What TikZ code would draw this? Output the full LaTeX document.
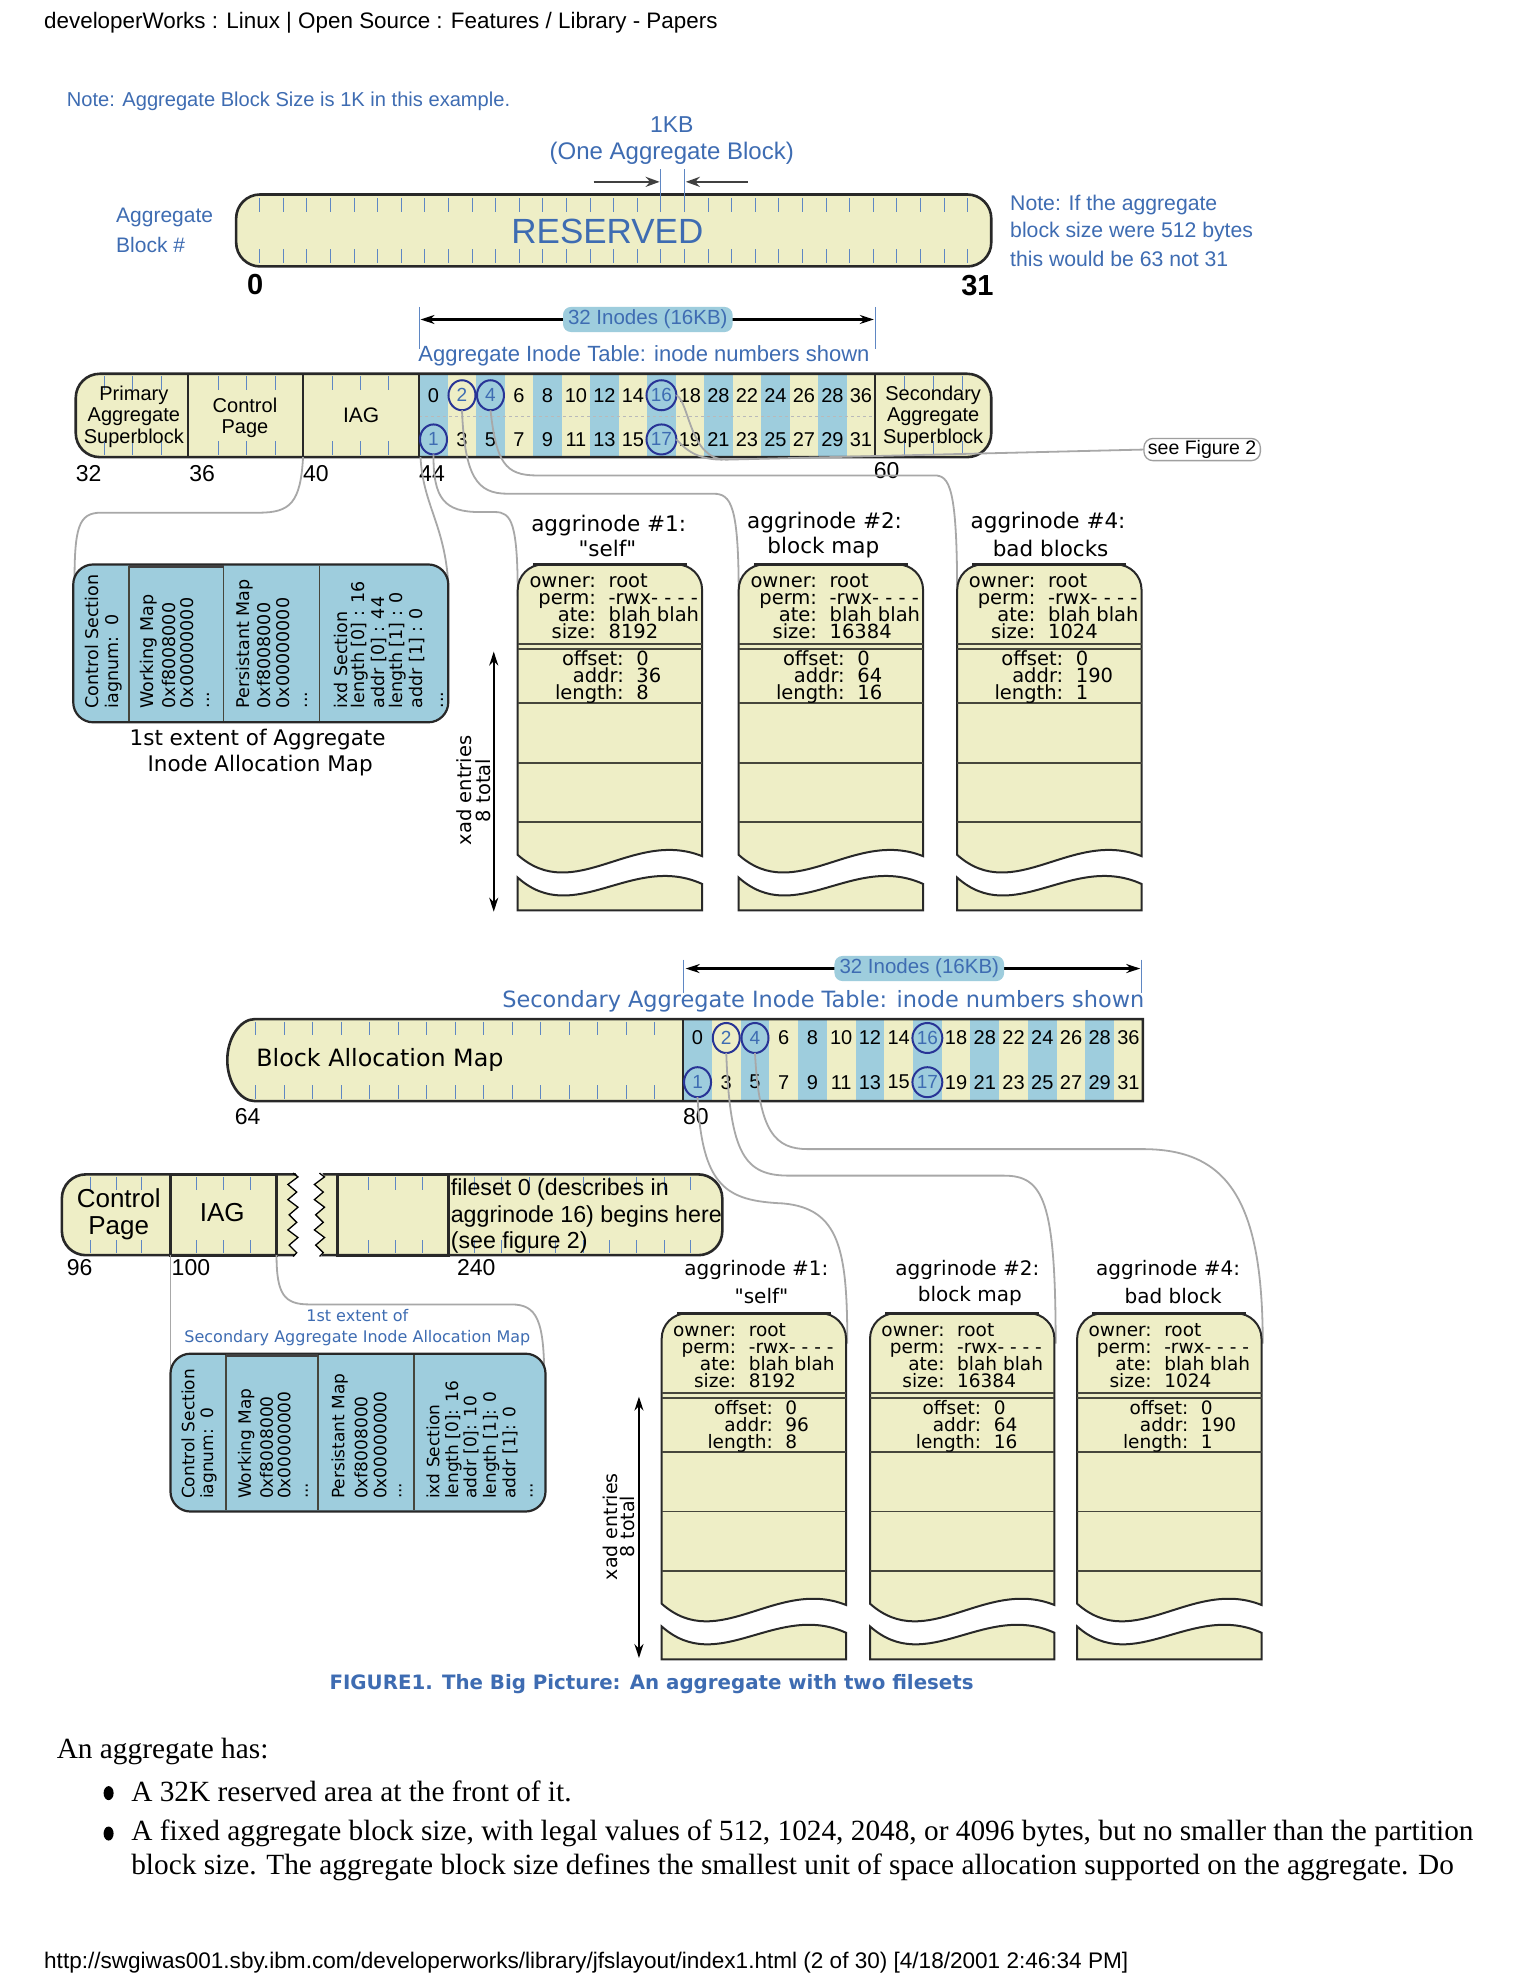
\documentclass[tikz,border=0pt]{standalone}
\usepackage{fontspec}
\setmainfont{Liberation Sans}
\newfontfamily\dejaf{DejaVu Sans}
\newfontfamily\serf{Liberation Serif}
\usetikzlibrary{arrows.meta,shapes.geometric}
\definecolor{creamc}{RGB}{238,238,198}
\definecolor{bluec}{RGB}{158,205,221}
\definecolor{bluet}{RGB}{62,108,178}
\definecolor{tickc}{RGB}{95,135,195}
\definecolor{navyc}{RGB}{40,52,150}
\definecolor{outc}{RGB}{40,40,40}
\definecolor{connc}{RGB}{168,168,168}
\definecolor{divc}{RGB}{70,70,60}
\newcommand\fsz[1]{\fontsize{#1}{#1}\selectfont}
\newcommand\fszl[2]{\fontsize{#1}{#2}\selectfont}
% aggrinode box: L, T, size, addr, length, fontsize, suffix, upper label x offset, lower label x offset
\newcommand\aggbox[9]{%
 \pgfmathsetmacro\aR{#1+146}
 \draw[draw=outc, line width=2pt, fill=creamc] (#1,{#2+230}) -- (#1,{#2+20}) .. controls (#1,{#2+9}) and ({#1+9},#2) .. ({#1+20},#2) -- ({\aR-20},#2) .. controls ({\aR-9},#2) and (\aR,{#2+9}) .. (\aR,{#2+20}) -- (\aR,{#2+231}) .. controls ({\aR-55},{#2+209}) and ({#1+45},{#2+270}) .. (#1,{#2+230}) -- cycle;
 \draw[outc, line width=3.5pt] ({#1+12},#2) -- ({\aR-12},#2);
 \foreach \dy in {63,67,110,157,204} \draw[dv] (#1,{#2+\dy}) -- (\aR,{#2+\dy});
 \draw[draw=outc, line width=2pt, fill=creamc] (#1,{#2+248}) .. controls ({#1+45},{#2+288}) and ({\aR-55},{#2+228}) .. (\aR,{#2+253}) -- (\aR,{#2+274}) -- (#1,{#2+274}) -- cycle;
 \begin{scope}
 \clip (#1,#2) rectangle (\aR,{#2+120});
 \node[anchor=base east, font=\dejaf\fsz{#6}] (ow#7) at ({#1+#8},{#2+18}) {owner:};
 \node[anchor=base west, font=\dejaf\fsz{#6}] (owv#7) at ({#1+#8+10},{#2+18}) {root};
 \node[anchor=base east, font=\dejaf\fsz{#6}] (pm#7) at ({#1+#8},{#2+32}) {perm:};
 \node[anchor=base west, font=\dejaf\fsz{#6}] (pmv#7) at ({#1+#8+10},{#2+32}) {-rwx- - - -};
 \node[anchor=base east, font=\dejaf\fsz{#6}] (at#7) at ({#1+#8},{#2+45.5}) {ate:};
 \node[anchor=base west, font=\dejaf\fsz{#6}] (atv#7) at ({#1+#8+10},{#2+45.5}) {blah blah};
 \node[anchor=base east, font=\dejaf\fsz{#6}] (sz#7) at ({#1+#8},{#2+59}) {size:};
 \node[anchor=base west, font=\dejaf\fsz{#6}] (szv#7) at ({#1+#8+10},{#2+59}) {#3};
 \node[anchor=base east, font=\dejaf\fsz{#6}] (of#7) at ({#1+#9},{#2+80}) {offset:};
 \node[anchor=base west, font=\dejaf\fsz{#6}] (ofv#7) at ({#1+#9+10},{#2+80}) {0};
 \node[anchor=base east, font=\dejaf\fsz{#6}] (ad#7) at ({#1+#9},{#2+93.5}) {addr:};
 \node[anchor=base west, font=\dejaf\fsz{#6}] (adv#7) at ({#1+#9+10},{#2+93.5}) {#4};
 \node[anchor=base east, font=\dejaf\fsz{#6}] (ln#7) at ({#1+#9},{#2+107}) {length:};
 \node[anchor=base west, font=\dejaf\fsz{#6}] (lnv#7) at ({#1+#9+10},{#2+107}) {#5};
 \end{scope}
}
\begin{document}
\begin{tikzpicture}[x=1.2624pt,y=-1.2624pt,
  every node/.style={inner sep=0pt, outer sep=0pt},
  outl/.style={draw=outc, line width=2.6pt},
  tk/.style={draw=tickc, line width=1pt},
  conn/.style={draw=connc, line width=1.8pt},
  dv/.style={draw=divc, line width=1.8pt},
  num/.style={font=\fsz{20pt}},
  circ/.style={ellipse, draw=navyc, line width=2pt, minimum width=27pt, minimum height=30pt, text=bluet, font=\fsz{19pt}},
  lbl/.style={font=\fsz{23pt}, anchor=west},
  bt/.style={text=bluet},
  aggl/.style={font=\dejaf\fsz{21.5pt}},
  rot/.style={rotate=90, anchor=west, font=\dejaf\fsz{17.5pt}},
  rotb/.style={rotate=90, anchor=west, font=\dejaf\fsz{17pt}},
  tiparrow/.style={-{Stealth[length=14pt,width=10pt]}, draw=black!75, line width=2.2pt},
  dbl/.style={{Stealth[length=14pt,width=9pt]}-{Stealth[length=14pt,width=9pt]}, draw=black, line width=1.8pt},
  segt/.style={align=center, font=\fszl{20pt}{21.5pt}},
]
\useasboundingbox (0,0) rectangle (1212,1568);
\fill[white] (0,0) rectangle (1212,1568);

% header
\node[anchor=west, font=\fsz{22.4pt}] (hdr) at (35,18) {developerWorks : Linux | Open Source : Features / Library - Papers};

% ===== Section 1: reserved =====
\node[anchor=west, bt, font=\fsz{20.1pt}] (note1) at (53,80) {Note: Aggregate Block Size is 1K in this example.};
\node[bt, font=\fsz{23pt}] (kb) at (532,99) {1KB};
\node[bt, font=\fsz{24pt}] (kbsub) at (532,121) {(One Aggregate Block)};
\draw[outl, fill=creamc, rounded corners=24pt] (187,154) rectangle (785,211);
\foreach \i in {1,...,31} {
  \draw[tk] ({187+\i*18.69},157) -- ++(0,11);
  \draw[tk] ({187+\i*18.69},208) -- ++(0,-11);
}
\draw[tk] (523.4,134) -- (523.4,157);
\draw[tk] (542.1,134) -- (542.1,157);
\coordinate (kbl) at (522.4,144);
\coordinate (kbr) at (543.1,144);
\coordinate (kbla) at (470,144);
\coordinate (kbra) at (592,144);
\draw[tiparrow] (kbla) -- (kbl);
\draw[tiparrow] (kbra) -- (kbr);
\node[bt, font=\fsz{35pt}] (res) at (481,183) {RESERVED};
\node[anchor=west, bt, font=\fsz{21pt}] (ab1) at (92,172) {Aggregate};
\node[anchor=west, bt, font=\fsz{21pt}] (ab2) at (92,194) {Block \#};
\node[font=\bfseries\fsz{29pt}] (zero) at (202,225) {0};
\node[font=\bfseries\fsz{29pt}] (th1) at (774,226) {31};
\node[anchor=west, bt, font=\fsz{21.2pt}] (nr1) at (800,162) {Note: If the aggregate};
\node[anchor=west, bt, font=\fsz{21.2pt}] (nr2) at (800,184) {block size were 512 bytes};
\node[anchor=west, bt, font=\fsz{21.2pt}] (nr3) at (800,205) {this would be 63 not 31};

% ===== Section 2: aggregate inode table =====
\draw[tk] (332,243) -- (332,276);
\draw[tk] (693,243) -- (693,276);
\coordinate (ia1) at (333,253);
\coordinate (ia2) at (692,253);
\draw[dbl, line width=2.2pt] (ia1) -- (ia2);
\node[fill=bluec, rounded corners=8pt, inner xsep=5pt, inner ysep=3pt, text=bluet, font=\fsz{20.5pt}] (inl1) at (513,253) {32 Inodes (16KB)};
\node[bt, font=\fsz{22pt}] (ait) at (510,282) {Aggregate Inode Table: inode numbers shown};

\coordinate (iagBL) at (240,362);
\coordinate (iagBR) at (333,362);
\coordinate (iamTL) at (59,462);
\coordinate (iamTR) at (355,462);
\coordinate (ag1a) at (410,472);
\coordinate (ag2a) at (585,472);
\coordinate (ag4a) at (758,472);

\fill[creamc, rounded corners=24pt] (60,296) rectangle (785,362);
\foreach \i in {0,2,...,14} \fill[bluec] ({332+\i*22.5625},296) rectangle ({332+(\i+1)*22.5625},362);
\draw[gray!55, dashed, line width=1pt] (332,330) -- (693,330);
\foreach \b in {33,34,35,37,38,39,41,42,43} {
  \draw[tk] ({60+(\b-32)*22.55},298) -- ++(0,11);
  \draw[tk] ({60+(\b-32)*22.55},360) -- ++(0,-11);
}
\foreach \b in {1,2,3} {
  \draw[tk] ({693+\b*23},298) -- ++(0,11);
  \draw[tk] ({693+\b*23},360) -- ++(0,-11);
}
\foreach \xx in {149,240,332,693} \draw[draw=outc, line width=2.2pt] (\xx,296) -- (\xx,362);
\draw[outl, rounded corners=24pt] (60,296) rectangle (785,362);

\node[segt] (psb) at (106,330) {Primary\\Aggregate\\Superblock};
\node[segt] (cp1) at (194,331) {Control\\Page};
\node[font=\fsz{21pt}] (iag1) at (286,329) {IAG};
\node[segt] (ssb) at (739,330) {Secondary\\Aggregate\\Superblock};

\foreach \i/\t in {0/0,3/6,4/8,5/10,6/12,7/14,9/18,10/28,11/22,12/24,13/26,14/28,15/36}
  \node[num] (ta\i) at ({343.3+\i*22.5625},313) {\t};
\foreach \i/\t in {1/3,2/5,3/7,4/9,5/11,6/13,7/15,9/19,10/21,11/23,12/25,13/27,14/29,15/31}
  \node[num] (tb\i) at ({343.3+\i*22.5625},348) {\t};
\node[circ] (c2) at ({343.3+1*22.5625},313) {2};
\node[circ] (c4) at ({343.3+2*22.5625},313) {4};
\node[circ] (c16) at ({343.3+8*22.5625},313) {16};
\node[circ] (c1) at (343.3,348) {1};
\node[circ] (c17) at ({343.3+8*22.5625},348) {17};

\node[lbl] (l32) at (60,375) {32};
\node[lbl] (l36) at (150,375) {36};
\node[lbl] (l40) at (240,375) {40};
\node[lbl] (l44) at (332,375) {44};
\node[lbl] (l60) at (692,373) {60};

\node[draw=gray!75, line width=1.3pt, rounded corners=9pt, inner xsep=4pt, inner ysep=2pt, font=\fsz{19.5pt}] (sf2) at (952,356) {see Figure 2};

\draw[conn] (iagBL) .. controls (238,398) and (230,406) .. (205,406) -- (80,406) .. controls (62,406) and (59,418) .. (iamTL);
\draw[conn] (iagBR) .. controls (335,400) and (352,415) .. (iamTR);
\draw[conn] (c1.south) .. controls (343,395) and (352,405.5) .. (380,405.5) -- (392,405.5) .. controls (405,405.5) and (410,414) .. (ag1a);
\draw[conn] (c2.south) .. controls (368,378) and (378,391) .. (402,391) -- (565,391) .. controls (579,391) and (585,400) .. (ag2a);
\draw[conn] (c4.south) .. controls (393,366) and (400,376.5) .. (425,376.5) -- (740,376.5) .. controls (752,376.5) and (758,386) .. (ag4a);
\draw[conn] (c16.east) .. controls (546,318) and (546,364) .. (575,364) -- (sf2.west);
\draw[conn] (c17.east) .. controls (540,352) and (548,364) .. (572,364);

% IAM box 1
\draw[outl, fill=bluec, rounded corners=20pt, line width=2.2pt] (58,447) rectangle (355,572);
\foreach \xx in {102,177,253} \draw[dv] (\xx,448) -- (\xx,571);
\draw[draw=gray!50!black, line width=3pt] (102,448.5) -- (177,448.5);
\node[rot] (m1a) at (73,561) {Control Section};
\node[rot] (m1b) at (90,561) {iagnum:\ \ 0};
\node[rot] (m1c) at (118,561) {Working Map};
\node[rot] (m1d) at (133.5,561) {0xf8008000};
\node[rot] (m1e) at (148.5,561) {0x00000000};
\node[rot] (m1f) at (165,561) {...};
\node[rot] (m1g) at (194,561) {Persistant Map};
\node[rot] (m1h) at (209,561) {0xf8008000};
\node[rot] (m1i) at (224,561) {0x00000000};
\node[rot] (m1j) at (243,561) {...};
\node[rot] (m1k) at (270,561) {ixd Section};
\node[rot] (m1l) at (285,561) {length [0] : 16};
\node[rot] (m1m) at (300,561) {addr [0] : 44};
\node[rot] (m1n) at (315,561) {length [1] : 0};
\node[rot] (m1o) at (330,561) {addr [1] : 0};
\node[rot] (m1p) at (350,561) {...};
\node[font=\dejaf\fsz{21.5pt}] (ext1a) at (204,586) {1st extent of Aggregate};
\node[font=\dejaf\fsz{21.5pt}] (ext1b) at (206,606) {Inode Allocation Map};

% aggrinodes section 1
\node[aggl] (a1l1) at (482,416) {aggrinode \#1:};
\node[aggl] (a1l2) at (481,434) {"self"};
\node[aggl] (a2l1) at (653,414) {aggrinode \#2:};
\node[aggl] (a2l2) at (652,434) {block map};
\node[aggl] (a4l1) at (830,414) {aggrinode \#4:};
\node[aggl] (a4l2) at (832,434) {bad blocks};
\aggbox{410}{447}{8192}{36}{8}{19.5pt}{A}{62}{84}
\aggbox{585}{447}{16384}{64}{16}{19.5pt}{B}{62}{84}
\aggbox{758}{447}{1024}{190}{1}{19.5pt}{C}{62}{84}
\coordinate (xt1) at (391,516);
\coordinate (xb1) at (391,722);
\draw[dbl] (xt1) -- (xb1);
\node[rotate=90, font=\dejaf\fsz{19.5pt}] (xad1a) at (368,626) {xad entries};
\node[rotate=90, font=\dejaf\fsz{19.5pt}] (xad1b) at (383,626) {8 total};

% ===== Section 3: secondary =====
\draw[tk] (541,760) -- (541,786);
\draw[tk] (904,760) -- (904,786);
\coordinate (ib1) at (543,767);
\coordinate (ib2) at (903,767);
\draw[dbl, line width=2.2pt] (ib1) -- (ib2);
\node[fill=bluec, rounded corners=8pt, inner xsep=5pt, inner ysep=3pt, text=bluet, font=\fsz{20.5pt}] (inl2) at (728,767) {32 Inodes (16KB)};
\node[bt, font=\dejaf\fsz{22.4pt}] (sait) at (652,793) {Secondary Aggregate Inode Table: inode numbers shown};

\path[fill=creamc] (905,807) -- (202,807) .. controls (190,807) and (180,822) .. (180,839.5) .. controls (180,857) and (190,872) .. (202,872) -- (905,872) -- cycle;
\foreach \i in {0,2,...,14} \fill[bluec] ({541+\i*22.75},807) rectangle ({541+(\i+1)*22.75},872);
\foreach \k in {1,...,15} {
  \draw[tk] ({180+\k*22.56},809) -- ++(0,11);
  \draw[tk] ({180+\k*22.56},870) -- ++(0,-11);
}
\draw[draw=outc, line width=2.2pt] (541,807) -- (541,872);
\draw[outl] (905,807) -- (202,807) .. controls (190,807) and (180,822) .. (180,839.5) .. controls (180,857) and (190,872) .. (202,872) -- (905,872) -- cycle;
\node[anchor=west, font=\dejaf\fsz{23.8pt}] (bam) at (203,839) {Block Allocation Map};
\foreach \i/\t in {0/0,3/6,4/8,5/10,6/12,7/14,9/18,10/28,11/22,12/24,13/26,14/28,15/36}
  \node[num] (sa\i) at ({552.4+\i*22.75},822) {\t};
\foreach \i/\t in {1/3,2/5,3/7,4/9,5/11,6/13,7/15,9/19,10/21,11/23,12/25,13/27,14/29,15/31}
  \node[num] (sb\i) at ({552.4+\i*22.75},857) {\t};
\node[circ] (s2) at ({552.4+1*22.75},822) {2};
\node[circ] (s4) at ({552.4+2*22.75},822) {4};
\node[circ] (s16) at ({552.4+8*22.75},822) {16};
\node[circ] (s1) at (552.4,857) {1};
\node[circ] (s17) at ({552.4+8*22.75},857) {17};
\node[lbl] (l64) at (186,884) {64};
\node[lbl] (l80) at (541,884) {80};

% lower left bar
\draw[outl, fill=creamc, rounded corners=24pt] (49,930) rectangle (572,994);
\foreach \xx in {71.4,91.9,112,156,177,198.6,292,313.5,334.6,376,397,419,440,462,483,504,526,547} {
  \draw[tk] (\xx,932) -- ++(0,10);
  \draw[tk] (\xx,992) -- ++(0,-10);
}
\draw[draw=outc, line width=3pt] (135,930) rectangle (219,994);
\draw[draw=outc, line width=3pt] (267,930) rectangle (355,994);
\fill[white] (232,925) -- (236,932) -- (228,938) -- (235,944) -- (228,950) -- (236,956) -- (229,962) -- (235,968) -- (228,974) -- (236,980) -- (229,986) -- (235,992) -- (231,999) -- (252,999) -- (256,992) -- (250,986) -- (257,980) -- (249,974) -- (256,968) -- (250,962) -- (257,956) -- (249,950) -- (256,944) -- (249,938) -- (257,932) -- (253,925) -- cycle;
\draw[black, line width=1.3pt] (232,929) -- (236,932) -- (228,938) -- (235,944) -- (228,950) -- (236,956) -- (229,962) -- (235,968) -- (228,974) -- (236,980) -- (229,986) -- (235,992) -- (232,995);
\draw[black, line width=1.3pt] (253,929) -- (257,932) -- (249,938) -- (256,944) -- (249,950) -- (257,956) -- (250,962) -- (256,968) -- (249,974) -- (257,980) -- (250,986) -- (256,992) -- (253,995);
\node[align=center, font=\fszl{26pt}{26.5pt}] (cp2) at (94,961.5) {Control\\Page};
\node[font=\fsz{26pt}] (iag2) at (176,960) {IAG};
\node[anchor=west, font=\fsz{23.2pt}] (fs1) at (357,942) {fileset 0 (describes in};
\node[anchor=west, font=\fsz{23.2pt}] (fs2) at (357,963) {aggrinode 16) begins here};
\node[anchor=west, font=\fsz{23.2pt}] (fs3) at (357,984) {(see figure 2)};
\node[lbl] (l96) at (53,1004) {96};
\node[lbl] (l100) at (136,1004) {100};
\node[lbl] (l240) at (362,1004) {240};

% connectors section 3
\coordinate (iag2BL) at (135,994);
\coordinate (iag2BR) at (219,994);
\coordinate (sam2TL) at (135,1092);
\coordinate (sam2TR) at (431,1092);
\coordinate (bg1) at (671,1064);
\coordinate (bg2) at (836,1064);
\coordinate (bg4) at (1000,1064);
\draw[conn] (iag2BL) -- (sam2TL);
\draw[conn] (iag2BR) .. controls (219,1025) and (225,1033) .. (245,1033) -- (405,1033) .. controls (425,1033) and (431,1045) .. (sam2TR);
\draw[conn] (s1.south) .. controls (556,940) and (575,951) .. (620,953) .. controls (665,957) and (671,990) .. (bg1);
\draw[conn] (s2.south) .. controls (578,915) and (590,931) .. (625,931) -- (795,931) .. controls (826,931) and (836,950) .. (bg2);
\draw[conn] (s4.south) .. controls (601,897) and (614,910) .. (640,910) -- (905,910) .. controls (972,910) and (1000,950) .. (bg4);

% IAM box 2
\node[bt, font=\dejaf\fsz{16pt}] (ext2a) at (283,1042) {1st extent of};
\node[bt, font=\dejaf\fsz{16pt}] (ext2b) at (283,1060) {Secondary Aggregate Inode Allocation Map};
\draw[outl, fill=bluec, rounded corners=20pt, line width=2.2pt] (135,1072) rectangle (432,1197);
\foreach \xx in {179,252,328} \draw[dv] (\xx,1073) -- (\xx,1196);
\draw[draw=gray!50!black, line width=3pt] (179,1073.5) -- (252,1073.5);
\node[rotb] (m2a) at (149,1187) {Control Section};
\node[rotb] (m2b) at (165,1187) {iagnum:\ \ 0};
\node[rotb] (m2c) at (195,1187) {Working Map};
\node[rotb] (m2d) at (211,1187) {0xf8008000};
\node[rotb] (m2e) at (225,1187) {0x00000000};
\node[rotb] (m2f) at (243,1187) {...};
\node[rotb] (m2g) at (269,1187) {Persistant Map};
\node[rotb] (m2h) at (286,1187) {0xf8008000};
\node[rotb] (m2i) at (301,1187) {0x00000000};
\node[rotb] (m2j) at (317,1187) {...};
\node[rotb] (m2k) at (343,1187) {ixd Section};
\node[rotb] (m2l) at (359,1187) {length [0]: 16};
\node[rotb] (m2m) at (373,1187) {addr [0]: 10};
\node[rotb] (m2n) at (389,1187) {length [1]: 0};
\node[rotb] (m2o) at (404,1187) {addr [1]: 0};
\node[rotb] (m2p) at (421,1187) {...};

% aggrinodes section 3
\node[font=\dejaf\fsz{20pt}] (b1l1) at (599,1006) {aggrinode \#1:};
\node[font=\dejaf\fsz{20pt}] (b1l2) at (603,1026) {"self"};
\node[font=\dejaf\fsz{20pt}] (b2l1) at (766,1006) {aggrinode \#2:};
\node[font=\dejaf\fsz{20pt}] (b2l2) at (768,1026) {block map};
\node[font=\dejaf\fsz{20pt}] (b4l1) at (925,1006) {aggrinode \#4:};
\node[font=\dejaf\fsz{20pt}] (b4l2) at (929,1026) {bad block};
\aggbox{524}{1040}{8192}{96}{8}{18.5pt}{D}{59}{88}
\aggbox{689}{1040}{16384}{64}{16}{18.5pt}{E}{59}{88}
\aggbox{853}{1040}{1024}{190}{1}{18.5pt}{F}{59}{88}
\coordinate (xt2) at (506,1106);
\coordinate (xb2) at (506,1313);
\draw[dbl] (xt2) -- (xb2);
\node[rotate=90, font=\dejaf\fsz{19pt}] (xad2a) at (483,1209) {xad entries};
\node[rotate=90, font=\dejaf\fsz{19pt}] (xad2b) at (497,1209) {8 total};

\node[bt, font=\dejaf\bfseries\fsz{19.8pt}] (cap) at (516,1334) {FIGURE1. The Big Picture: An aggregate with two filesets};

% body text
\node[anchor=west, font=\serf\fsz{29.3pt}] (body0) at (45,1387) {An aggregate has:};
\node[ellipse, fill=black, minimum width=10pt, minimum height=14pt] (bul1) at (86,1420) {};
\node[ellipse, fill=black, minimum width=10pt, minimum height=14pt] (bul2) at (86,1452) {};
\node[anchor=west, font=\serf\fsz{29.3pt}] (body1) at (104,1419) {A 32K reserved area at the front of it.};
\node[anchor=west, font=\serf\fsz{29.3pt}] (body2) at (104,1452) {A fixed aggregate block size, with legal values of 512, 1024, 2048, or 4096 bytes, but no smaller than the partition};
\node[anchor=west, font=\serf\fsz{29.3pt}] (body3) at (104,1479) {block size. The aggregate block size defines the smallest unit of space allocation supported on the aggregate. Do};

\node[anchor=west, font=\fsz{22.55pt}] (ftr) at (35,1554) {http://swgiwas001.sby.ibm.com/developerworks/library/jfslayout/index1.html (2 of 30) [4/18/2001 2:46:34 PM]};
\end{tikzpicture}
\end{document}
